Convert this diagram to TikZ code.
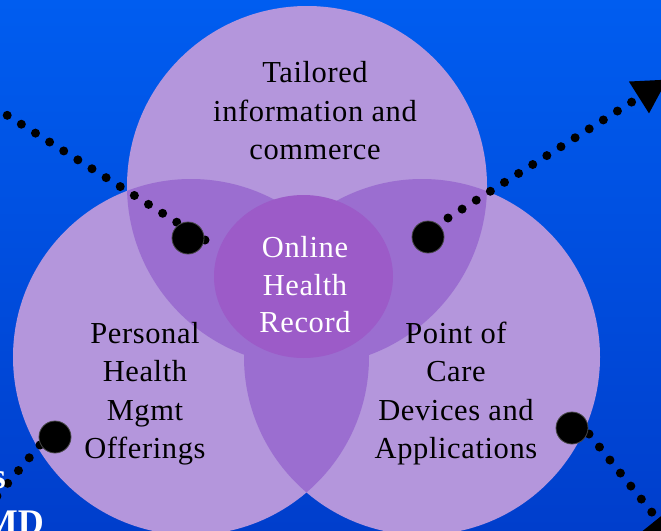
\documentclass[tikz,border=0pt]{standalone}
\usepackage{fontspec}
\setmainfont{Liberation Serif}
\usetikzlibrary{arrows.meta}
\definecolor{bgtop}{RGB}{0,93,240}
\definecolor{bgbot}{RGB}{0,62,204}
\definecolor{petal}{RGB}{180,150,220}
\definecolor{lenscol}{RGB}{155,110,208}
\definecolor{corecol}{RGB}{156,91,200}
\definecolor{ringcol}{RGB}{70,70,70}
\begin{document}
\begin{tikzpicture}[x=1pt,y=-1pt,
  lbl/.style={font=\fontsize{30.5}{38.5}\selectfont\addfontfeature{LetterSpace=2}, align=center, text=black, inner sep=0pt},
  corelbl/.style={font=\fontsize{30.5}{37.5}\selectfont\addfontfeature{LetterSpace=2}, align=center, text=white, inner sep=0pt},
  frag/.style={font=\bfseries\fontsize{36}{44}\selectfont, text=white, anchor=base east, inner sep=0pt},
  dotline/.style={line width=9pt, line cap=round, dash pattern=on 0pt off 16.7pt},
  tipped/.style={-{Triangle[length=34pt,width=35pt]}},
  bigdot/.style={circle, fill=black, draw=ringcol, line width=0.8pt, minimum size=32pt, inner sep=0pt}]
\useasboundingbox (0,0) rectangle (661,530);
\clip (0,0) rectangle (661,530);
\shade[top color=bgtop, bottom color=bgbot] (0,0) rectangle (661,530);

% circle centres
\coordinate (cT) at (307,186);
\coordinate (cL) at (191,357);
\coordinate (cR) at (422,357);

\fill[petal] (cT) circle[radius=180pt];
\fill[petal] (cL) circle[radius=178pt];
\fill[petal] (cR) circle[radius=178pt];
\begin{scope}
  \clip (cT) circle[radius=180pt];
  \fill[lenscol] (cL) circle[radius=178pt];
  \fill[lenscol] (cR) circle[radius=178pt];
\end{scope}
\begin{scope}
  \clip (cL) circle[radius=178pt];
  \fill[lenscol] (cR) circle[radius=178pt];
\end{scope}
\fill[corecol] (303.5,276.5) ellipse[x radius=89.5pt, y radius=81.5pt];

% connector ends
\coordinate (s1) at (205,240);
\coordinate (e1) at (-25,95);
\coordinate (s2) at (448,218);
\coordinate (e2) at (667.7,79.3);
\coordinate (s3) at (589,434);
\coordinate (e3) at (678.7,545.6);
\coordinate (s4) at (40,445);
\coordinate (e4) at (-35,534);

\draw[dotline] (s1) -- (e1);
\draw[dotline, tipped] (s2) -- (e2);
\draw[dotline, tipped] (s3) -- (e3);
\draw[dotline] (s4) -- (e4);

\node[bigdot] (d1) at (188,238) {};
\node[bigdot] (d2) at (428,237) {};
\node[bigdot] (d3) at (572,428) {};
\node[bigdot] (d4) at (55,437) {};

\node[lbl] (tailored) at (315,111) {Tailored\\information and\\commerce};
\node[lbl] (personal) at (145,393.5) {Personal\\Health\\Mgmt\\Offerings};
\node[lbl] (poc) at (456,393.5) {Point of\\Care\\Devices and\\Applications};
\node[corelbl] (ohr) at (305,285) {Online\\Health\\Record};

\node[frag] (frag1) at (6,488) {s};
\node[frag] (frag2) at (44,534) {MD};
\end{tikzpicture}
\end{document}
